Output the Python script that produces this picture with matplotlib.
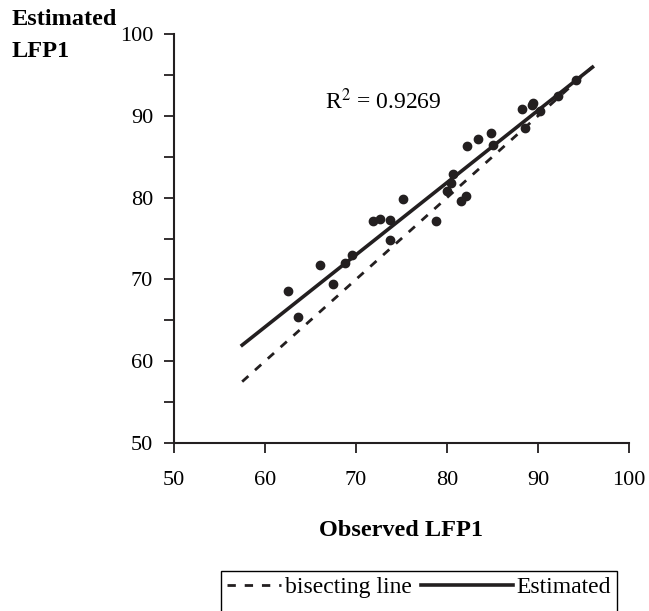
import matplotlib
matplotlib.use("Agg")
import matplotlib.pyplot as plt
from matplotlib.ticker import MultipleLocator
from matplotlib.legend_handler import HandlerLine2D
from matplotlib.patches import Rectangle
import numpy as np

plt.rcParams['font.family'] = ['Liberation Serif', 'DejaVu Serif']
plt.rcParams['mathtext.fontset'] = 'stix'

# observed vs estimated LFP1
observed = [62.5, 63.6, 66.0, 67.5, 68.8, 69.6, 71.9, 72.6, 73.7, 73.8,
            75.2, 78.8, 80.0, 80.5, 80.7, 81.6, 82.1, 82.2, 83.4, 84.9,
            85.1, 88.2, 89.3, 89.5, 90.2, 88.6, 92.2, 94.2]
estimated = [68.6, 65.4, 71.8, 69.5, 72.0, 73.0, 77.2, 77.4, 77.3, 74.8,
             79.9, 77.1, 80.8, 81.8, 82.9, 79.6, 80.2, 86.3, 87.2, 87.9,
             86.5, 90.9, 91.3, 91.6, 90.6, 88.5, 92.5, 94.4]

# fitted line and bisector span
fit_slope = 0.883
fit_intercept = 11.2
line_x = [57.5, 96.0]
r2_text = 'R$^2$ = 0.9269'

ink = '#231f20'


class LongHandle(HandlerLine2D):
    # solid handle reaches left into the column gap
    def get_xdata(self, legend, xdescent, ydescent, width, height, fontsize):
        return np.array([-1.6 * fontsize, width]), np.array([-1.6 * fontsize, width])


fig = plt.figure(figsize=(6.49, 6.11), dpi=100)
ax = fig.add_axes([0.268, 0.275, 0.701, 0.669])

ax.plot(observed, estimated, 'o', color=ink, ms=6, zorder=3)
lx = np.array(line_x)
l1, = ax.plot(lx, lx, color=ink, lw=2, linestyle=(0, (3, 3.2)),
              label='bisecting line')
l2, = ax.plot(lx, fit_slope * lx + fit_intercept, color=ink, lw=2.6,
              label='Estimated')

ax.text(66.6, 90.8, r2_text, fontsize=17, ha='left', va='baseline')

ax.set_xlim(50, 100)
ax.set_ylim(50, 100)
ax.xaxis.set_major_locator(MultipleLocator(10))
ax.yaxis.set_major_locator(MultipleLocator(10))
ax.yaxis.set_minor_locator(MultipleLocator(5))
ax.tick_params(which='both', direction='out', length=7, width=1.3,
               labelsize=16, color=ink)
ax.tick_params(axis='x', pad=13)
ax.tick_params(axis='y', pad=8)

for s in ['top', 'right']:
    ax.spines[s].set_visible(False)
for s in ['left', 'bottom']:
    ax.spines[s].set_linewidth(1.5)
    ax.spines[s].set_color(ink)

ax.set_xlabel('Observed LFP1', fontsize=17.5, fontweight='bold', labelpad=22)
fig.text(0.018, 1 - 25 / 611, 'Estimated', fontsize=17.5, fontweight='bold',
         ha='left', va='baseline')
fig.text(0.018, 1 - 57 / 611, 'LFP1', fontsize=17.5, fontweight='bold',
         ha='left', va='baseline')

leg = fig.legend(handles=[l1, l2], loc='upper left',
                 bbox_to_anchor=(221 / 649, 1 - 571 / 611), borderaxespad=0,
                 ncol=2, fontsize=17, frameon=False,
                 handlelength=2.3, handletextpad=0.15, columnspacing=2.0,
                 borderpad=0.25, handler_map={l2: LongHandle()})

# legend box runs off the bottom edge of the picture
fig.canvas.draw()
bb = leg.get_window_extent().transformed(fig.transFigure.inverted())
fig.add_artist(Rectangle((bb.x0, -0.05), bb.width, bb.y1 + 0.05,
                         transform=fig.transFigure, fill=False,
                         edgecolor='black', lw=1.0))

fig.savefig('out.png', dpi=100)
